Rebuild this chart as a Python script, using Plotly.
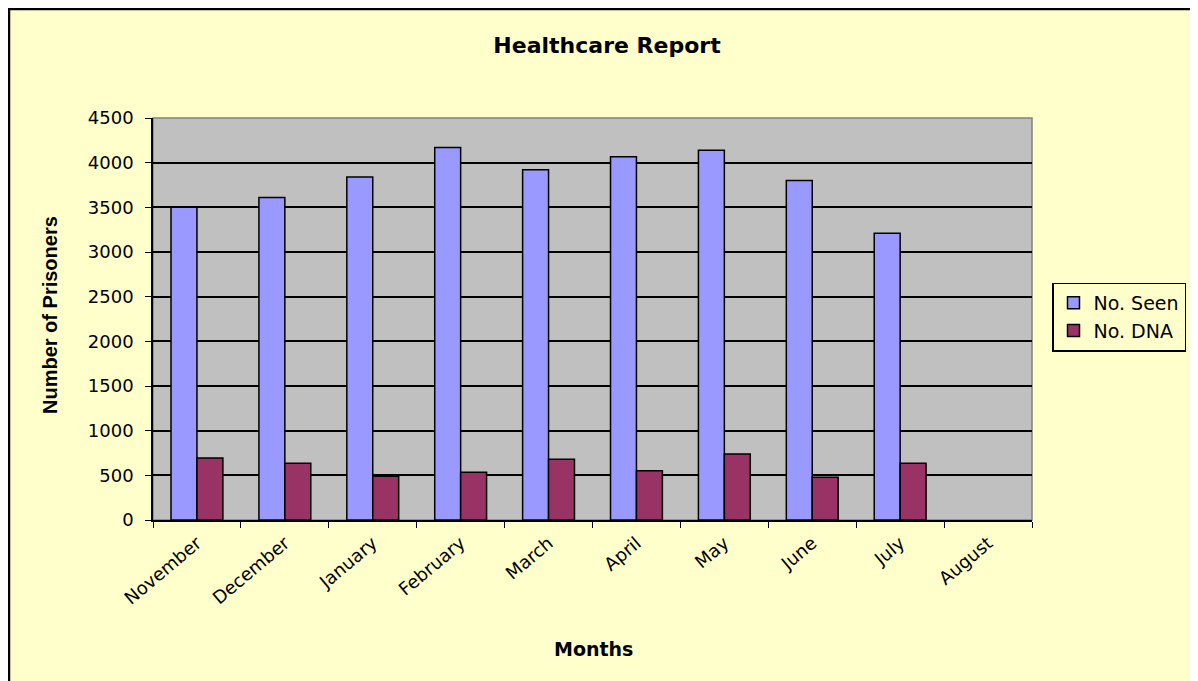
import plotly.graph_objects as go

months = ["November", "December", "January", "February", "March", "April",
          "May", "June", "July", "August"]
no_seen = [3500, 3610, 3840, 4170, 3920, 4065, 4140, 3800, 3210, None]
no_dna = [695, 635, 490, 535, 680, 550, 740, 478, 635, None]

FONT = "DejaVu Sans, sans-serif"
W, H = 1190, 673
L, T, PW, PH = 145, 110, 879, 402

fig = go.Figure()
fig.add_trace(go.Bar(name="No. Seen", x=months, y=no_seen,
                     marker=dict(color="#9999FF", line=dict(color="black", width=1.5))))
fig.add_trace(go.Bar(name="No. DNA", x=months, y=no_dna,
                     marker=dict(color="#993366", line=dict(color="black", width=1.5))))

fig.update_layout(
    width=W, height=H,
    paper_bgcolor="#FFFFCC", plot_bgcolor="#C0C0C0",
    margin=dict(l=L, r=W - L - PW, t=T, b=H - T - PH),
    barmode="group", bargap=0.41, bargroupgap=0,
    font=dict(family=FONT, color="black", size=17),
    title=dict(text="<b>Healthcare Report</b>", x=(607 - 8) / W, xanchor="center",
               y=1 - 37 / H, yanchor="middle", font=dict(size=22, family=FONT)),
    legend=dict(x=(1044 - L) / PW, xanchor="left", y=(512 - 309) / PH, yanchor="middle",
                bgcolor="#FFFFCC", bordercolor="black", borderwidth=1.5,
                font=dict(size=19, family=FONT), itemwidth=30,
                traceorder="normal"),
    showlegend=True,
)

fig.update_xaxes(
    type="category", tickangle=-40, tickson="boundaries", ticks="outside",
    ticklen=6, tickcolor="black", showline=True, linecolor="black", linewidth=1.5,
    showgrid=False, tickfont=dict(size=18, family=FONT), ticklabelstandoff=4,
)
fig.update_yaxes(
    range=[0, 4500], dtick=500, tick0=0, ticks="outside", ticklen=6,
    tickcolor="black", showline=True, linecolor="black", linewidth=1.5,
    showgrid=True, gridcolor="black", gridwidth=1.5, zeroline=False,
    tickfont=dict(size=18, family=FONT), ticklabelstandoff=8,
)

fig.add_annotation(text="<b>Months</b>", xref="paper", yref="paper",
                   x=(593 - 8 - L) / PW, y=(512 - 641) / PH, showarrow=False,
                   xanchor="center", yanchor="middle", font=dict(size=19, family=FONT))
fig.add_annotation(text="<b>Number of Prisoners</b>", xref="paper", yref="paper",
                   x=(42 - L) / PW, y=(512 - 307) / PH, showarrow=False, textangle=-90,
                   xanchor="center", yanchor="middle",
                   font=dict(size=20, family="Liberation Sans, Arial, sans-serif"))

# plot area frame (top/right in grey)
fig.add_shape(type="rect", xref="paper", yref="paper", x0=0, x1=1, y0=0, y1=1,
              line=dict(color="#808080", width=1.5), layer="below")
# chart outer border (top and left)
fig.add_shape(type="line", xref="paper", yref="paper",
              x0=(0 - L) / PW, x1=(W - L) / PW,
              y0=(T + PH - 1) / PH, y1=(T + PH - 1) / PH,
              line=dict(color="black", width=2.5))
fig.add_shape(type="line", xref="paper", yref="paper",
              x0=(1 - L) / PW, x1=(1 - L) / PW,
              y0=(T + PH) / PH, y1=(T + PH - H) / PH,
              line=dict(color="black", width=2.5))

fig.write_html("out.html")
